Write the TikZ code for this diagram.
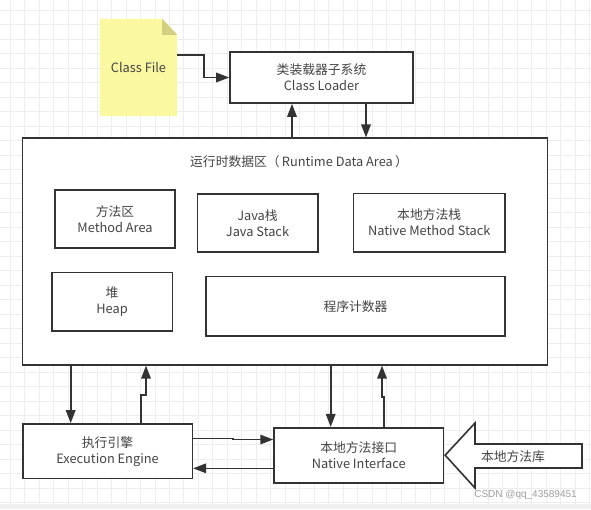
\documentclass[tikz,border=0pt]{standalone}
\usepackage{fontspec}
\newfontfamily\cjk{Noto Sans CJK SC}
\newfontfamily\wmfont{Liberation Sans}
\usetikzlibrary{arrows.meta}
\definecolor{ln}{HTML}{333333}
\definecolor{txt}{HTML}{444444}
\definecolor{gridc}{HTML}{EDEDED}
\definecolor{notey}{HTML}{FAF8A0}
\definecolor{notef}{HTML}{D2D07E}
\tikzset{
  lbl/.style={font=\cjk\fontsize{12.8}{16}\selectfont, text=txt, align=center},
  box/.style={lbl, draw=ln, line width=1.6pt, fill=white, inner sep=0pt},
  arr/.style={draw=ln, line width=1.6pt, -{Triangle[length=13pt,width=9.5pt]}},
}
\begin{document}
\begin{tikzpicture}[x=1pt,y=-1pt]
\useasboundingbox (0,0) rectangle (591,509);
\fill[white] (0,0) rectangle (591,509);
% grid
\foreach \i in {0,...,40}{
  \pgfmathsetmacro{\gx}{10+\i*14.49}
  \draw[gridc, line width=0.8pt] (\gx,0) -- (\gx,504);
}
\foreach \i in {0,...,34}{
  \pgfmathsetmacro{\gy}{10+\i*14.49}
  \draw[gridc, line width=0.8pt] (0,\gy) -- (591,\gy);
}
\fill[gray!12] (0,504) rectangle (591,509);

% Class File note
\node[lbl, minimum width=77pt, minimum height=97pt, inner sep=0pt] (cf) at (138.5,67.5) {};
\fill[notey] (cf.north west) -- ([xshift=-15pt]cf.north east) -- ([yshift=-16pt]cf.north east) -- (cf.south east) -- (cf.south west) -- cycle;
\fill[notef] ([xshift=-15pt]cf.north east) -- ([xshift=-15pt,yshift=-16pt]cf.north east) -- ([yshift=-16pt]cf.north east) -- cycle;
\node[lbl] at (cf.center) {Class File};

% Class Loader
\node[box, minimum width=183pt, minimum height=51pt] (cl) at (321.5,77.5) {类装载器子系统\\Class Loader};

% Runtime data area
\node[box, minimum width=525pt, minimum height=226.5pt] (rda) at (285.1,251.5) {};
\node[lbl] (title) at (299,162) {运行时数据区（\,Runtime Data Area\,）};
\node[box, minimum width=120pt, minimum height=58pt] (ma) at (115,219) {方法区\\Method Area};
\node[box, minimum width=120.4pt, minimum height=57.7pt] (js) at (257.5,223) {Java栈\\Java Stack};
\node[box, minimum width=151.7pt, minimum height=58.4pt] (nms) at (429.2,222.5) {本地方法栈\\Native Method Stack};
\node[box, minimum width=120.6pt, minimum height=58.4pt] (heap) at (112,301.5) {堆\\Heap};
\node[box, minimum width=299pt, minimum height=59.3pt] (pc) at (355.5,306.3) {程序计数器};

% bottom boxes
\node[box, minimum width=169.6pt, minimum height=54.7pt] (exec) at (107.5,451.3) {执行引擎\\Execution Engine};
\node[box, minimum width=169.3pt, minimum height=55pt] (ni) at (358.7,455.2) {本地方法接口\\Native Interface};

% block arrow
\draw[ln, line width=1.6pt, fill=white, line join=miter] ([xshift=1pt]ni.east) -- (475,423) -- (475,444) -- (582,444) -- (582,468) -- (475,468) -- (475,488) -- cycle;
\node[lbl] (lib) at (513,457) {本地方法库};

% connectors
\draw[arr] ([yshift=12.5pt]cf.east) -- (204,55) -- (204,77.5) -- (cl.west);
\draw[arr] (292,0 |- rda.north) -- (292,0 |- cl.south);
\draw[arr] (366,0 |- cl.south) -- (366,0 |- rda.north);
\draw[arr] (70.7,0 |- rda.south) -- (70.7,0 |- exec.north);
\draw[arr] (141,0 |- exec.north) -- (141,395) -- (146,395) -- (146,0 |- rda.south);
\draw[arr] (330.7,0 |- rda.south) -- (330.7,0 |- ni.north);
\draw[arr] (384,0 |- ni.north) -- (384,397) -- (382,397) -- (382,0 |- rda.south);
\draw[arr] (exec.east |- 0,438.3) -- (233,438.3) -- (233,439.5) -- (ni.west |- 0,439.5);
\draw[arr] (ni.west |- 0,468.3) -- (exec.east |- 0,468.3);

% watermark
\node[font=\wmfont\fontsize{10}{12}\selectfont, text=gray!75] (wm) at (525.5,495) {CSDN @qq\_43589451};
\end{tikzpicture}
\end{document}
